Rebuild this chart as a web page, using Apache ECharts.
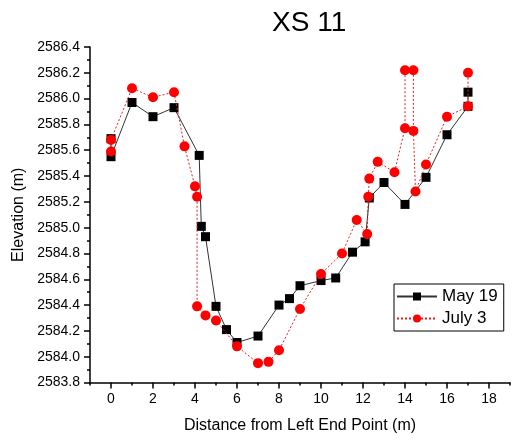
<!DOCTYPE html>
<html>
<head>
<meta charset="utf-8">
<script src="https://cdn.jsdelivr.net/npm/echarts@6/dist/echarts.min.js"></script>
<style>
html,body{margin:0;padding:0;background:#fff;}
#chart{width:522px;height:441px;}
</style>
</head>
<body>
<div id="chart"></div>
<script>
var titleText = 'XS 11';
var xAxisName = 'Distance from Left End Point (m)';
var yAxisName = 'Elevation (m)';
var seriesNames = ['May 19', 'July 3'];

var mayX = [0, 0, 1, 2, 3, 4.2, 4.3, 4.5, 5, 5.5, 6, 7, 8, 8.5, 9, 10, 10.7, 11.5, 12.1, 12.3, 13, 14, 15, 16, 17, 17];
var mayY = [2585.69, 2585.55, 2585.97, 2585.86, 2585.93, 2585.56, 2585.01, 2584.93, 2584.39, 2584.21, 2584.11, 2584.16, 2584.40, 2584.45, 2584.55, 2584.59, 2584.61, 2584.81, 2584.89, 2585.23, 2585.35, 2585.18, 2585.39, 2585.72, 2585.94, 2586.05];

var julyX = [0, 0, 1, 2, 3, 3.5, 4.0, 4.1, 4.1, 4.5, 5, 6, 7, 7.5, 8, 9, 10, 11, 11.7, 12.2, 12.25, 12.3, 12.7, 13.5, 14.0, 14.0, 14.4, 14.4, 14.5, 15, 16, 17, 17];
var julyY = [2585.59, 2585.68, 2586.08, 2586.01, 2586.05, 2585.63, 2585.32, 2585.24, 2584.39, 2584.32, 2584.28, 2584.08, 2583.95, 2583.96, 2584.05, 2584.37, 2584.64, 2584.80, 2585.06, 2584.95, 2585.24, 2585.38, 2585.51, 2585.43, 2585.77, 2586.22, 2586.22, 2585.75, 2585.28, 2585.49, 2585.86, 2585.94, 2586.20];

var xMajorTicks = [0, 2, 4, 6, 8, 10, 12, 14, 16, 18];

function pairs(xs, ys) {
  return xs.map(function (x, i) { return [x, ys[i]]; });
}

var FONT = 'Liberation Sans, Arial, sans-serif';
var chart = echarts.init(document.getElementById('chart'), null, {renderer: 'canvas'});
chart.setOption({
  backgroundColor: '#fff',
  animation: false,
  title: {
    text: titleText,
    left: 272, top: 9, padding: 0,
    textStyle: {fontFamily: FONT, fontSize: 28, fontWeight: 'normal', color: '#000'}
  },
  legend: {
    orient: 'vertical',
    left: 394, top: 284,
    padding: [4, 6, 4, 2],
    itemGap: 5,
    itemWidth: 40, itemHeight: 10,
    borderColor: '#000', borderWidth: 1,
    textStyle: {fontFamily: FONT, fontSize: 17, color: '#000'},
    data: seriesNames
  },
  grid: {left: 90, right: 12, top: 47, bottom: 58.5, containLabel: false},
  xAxis: [{
    type: 'value', min: -1, max: 19, interval: 1,
    name: xAxisName, nameLocation: 'middle', nameGap: 35,
    nameTextStyle: {fontFamily: FONT, fontSize: 16, color: '#000'},
    axisLine: {show: true, onZero: false, lineStyle: {color: '#000', width: 1.5}},
    axisTick: {show: true, length: 3, lineStyle: {color: '#000', width: 1.5}},
    axisLabel: {
      fontFamily: FONT, fontSize: 14, color: '#000', margin: 10,
      customValues: xMajorTicks,
      formatter: function (v) { return String(v); }
    },
    splitLine: {show: false}
  }, {
    type: 'value', min: -1, max: 19, position: 'bottom',
    axisLine: {show: false},
    axisTick: {show: true, length: 6, customValues: xMajorTicks, lineStyle: {color: '#000', width: 1.5}},
    axisLabel: {show: false},
    splitLine: {show: false}
  }],
  yAxis: {
    type: 'value', min: 2583.8, max: 2586.4, interval: 0.2,
    name: yAxisName, nameLocation: 'middle', nameGap: 57, nameRotate: 90,
    nameTextStyle: {fontFamily: FONT, fontSize: 16, color: '#000'},
    axisLine: {show: true, onZero: false, lineStyle: {color: '#000', width: 1.5}},
    axisTick: {show: true, length: 6, lineStyle: {color: '#000', width: 1.5}},
    minorTick: {show: true, splitNumber: 2, length: 3, lineStyle: {color: '#000', width: 1.5}},
    axisLabel: {
      fontFamily: FONT, fontSize: 14, color: '#000', margin: 10,
      formatter: function (v) { return v.toFixed(1); }
    },
    splitLine: {show: false}
  },
  series: [{
    name: seriesNames[0], type: 'line', xAxisIndex: 0,
    data: pairs(mayX, mayY),
    symbol: 'rect', symbolSize: 9,
    itemStyle: {color: '#000'},
    lineStyle: {color: '#333', width: 1, type: 'solid'},
    z: 2
  }, {
    name: seriesNames[1], type: 'line', xAxisIndex: 0,
    data: pairs(julyX, julyY),
    symbol: 'circle', symbolSize: 10,
    itemStyle: {color: '#ff0000'},
    lineStyle: {color: '#e02020', width: 1, type: [2, 2]},
    z: 3
  }]
});
</script>
</body>
</html>
